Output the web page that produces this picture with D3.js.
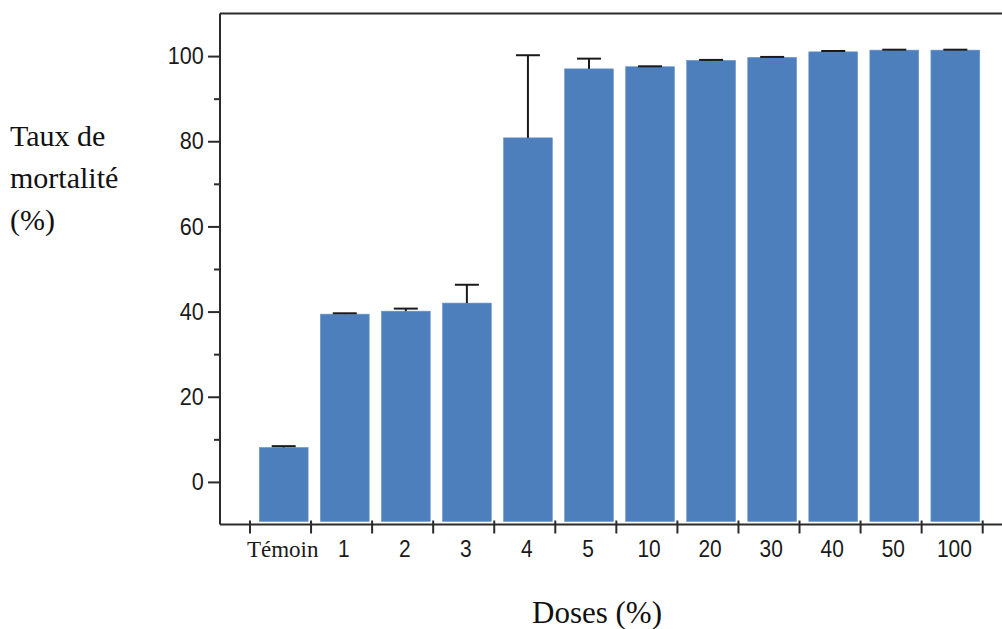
<!DOCTYPE html>
<html><head><meta charset="utf-8">
<script src="https://cdn.jsdelivr.net/npm/d3@7"></script>
<style>
html,body{margin:0;padding:0;background:#fff;}
svg{display:block;}
</style></head>
<body>
<svg id="chart" width="1002" height="629"></svg>
<script>
const categories = ["Témoin","1","2","3","4","5","10","20","30","40","50","100"];
const mortality = [8.1, 39.4, 40.1, 42.0, 80.8, 97.0, 97.5, 99.0, 99.7, 101.0, 101.4, 101.4];
const errors    = [0.3, 0.2, 0.6, 4.3, 19.4, 2.4, 0.1, 0.1, 0.1, 0.2, 0.1, 0.1];
const yMajorTicks = [0, 20, 40, 60, 80, 100];
const yMinorTicks = [10, 30, 50, 70, 90];
const yLabelLines = ["Taux de", "mortalité", "(%)"];
const xTitle = "Doses (%)";

const svg = d3.select("#chart");
const axisColor = "#2b2b2b";
const barColor = "#4d7fbc";

const y = d3.scaleLinear().domain([-10, 110]).range([524.5, 13.5]);
const x = d3.scaleBand().domain(categories).range([250, 982.7]).padding(0);
const step = x.step();

// top border line
svg.append("line").attr("x1", 220).attr("x2", 1002).attr("y1", y(110)).attr("y2", y(110))
  .attr("stroke", axisColor).attr("stroke-width", 2);

// bars
const barW = step * 0.8, barOff = step * 0.152;
svg.append("g").selectAll("rect").data(categories).join("rect")
  .attr("x", d => x(d) + barOff)
  .attr("width", barW)
  .attr("y", (d, i) => y(mortality[i]))
  .attr("height", (d, i) => (y(-10) - 3) - y(mortality[i]))
  .attr("fill", barColor)
  .attr("stroke", "#6b97cc").attr("stroke-width", 0.6);

// error bars (upper only)
const eg = svg.append("g").attr("stroke", "#1a1a1a").attr("stroke-width", 2);
categories.forEach((d, i) => {
  const cx = x(d) + barOff + barW / 2;
  const top = y(mortality[i] + errors[i]);
  eg.append("line").attr("x1", cx).attr("x2", cx).attr("y1", y(mortality[i])).attr("y2", top);
  eg.append("line").attr("x1", cx - 12).attr("x2", cx + 12).attr("y1", top).attr("y2", top);
});

// y axis
const yAxis = d3.axisLeft(y).tickValues(yMajorTicks).tickSize(12).tickPadding(6).tickSizeOuter(0);
const gy = svg.append("g").attr("transform", "translate(220,0)").call(yAxis);
gy.select(".domain").attr("d", `M0,${y(110)}V${y(-10)}`).attr("stroke", axisColor).attr("stroke-width", 2);
gy.selectAll(".tick line").attr("stroke", axisColor).attr("stroke-width", 2);
gy.selectAll(".tick text").attr("font-family", "Liberation Sans, Arial, sans-serif")
  .attr("font-size", 24).attr("fill", "#1a1a1a").attr("transform", "scale(0.9,1)");
const gyMinor = svg.append("g").attr("transform", "translate(220,0)")
  .call(d3.axisLeft(y).tickValues(yMinorTicks).tickSize(6).tickFormat(""));
gyMinor.select(".domain").remove();
gyMinor.selectAll(".tick line").attr("stroke", axisColor).attr("stroke-width", 2);

// x axis
svg.append("line").attr("x1", 220).attr("x2", 1002).attr("y1", y(-10)).attr("y2", y(-10))
  .attr("stroke", axisColor).attr("stroke-width", 2);
const boundaries = categories.map(d => x(d)).concat([x(categories[categories.length - 1]) + step]);
svg.append("g").selectAll("line").data(boundaries).join("line")
  .attr("x1", d => d).attr("x2", d => d)
  .attr("y1", y(-10) - 4).attr("y2", y(-10) + 9)
  .attr("stroke", axisColor).attr("stroke-width", 2);
svg.append("g").selectAll("text").data(categories).join("text")
  .attr("transform", d => `translate(${x(d) + barOff + barW / 2 - 1},557) scale(${d === "Témoin" ? 1 : 0.91},1)`)
  .attr("text-anchor", "middle")
  .attr("font-family", d => d === "Témoin" ? "Liberation Serif, Times New Roman, serif" : "Liberation Sans, Arial, sans-serif")
  .attr("font-size", 23)
  .attr("fill", "#1a1a1a")
  .text(d => d);

// y title
svg.append("text").attr("font-family", "Liberation Serif, Times New Roman, serif")
  .attr("font-size", 30).attr("fill", "#111")
  .selectAll("tspan").data(yLabelLines).join("tspan")
  .attr("x", 10).attr("y", (d, i) => 146 + i * 42).text(d => d);

// x title
svg.append("text").attr("x", 597).attr("y", 623).attr("text-anchor", "middle")
  .attr("font-family", "Liberation Serif, Times New Roman, serif")
  .attr("font-size", 31).attr("fill", "#111").text(xTitle);
</script>
</body></html>
